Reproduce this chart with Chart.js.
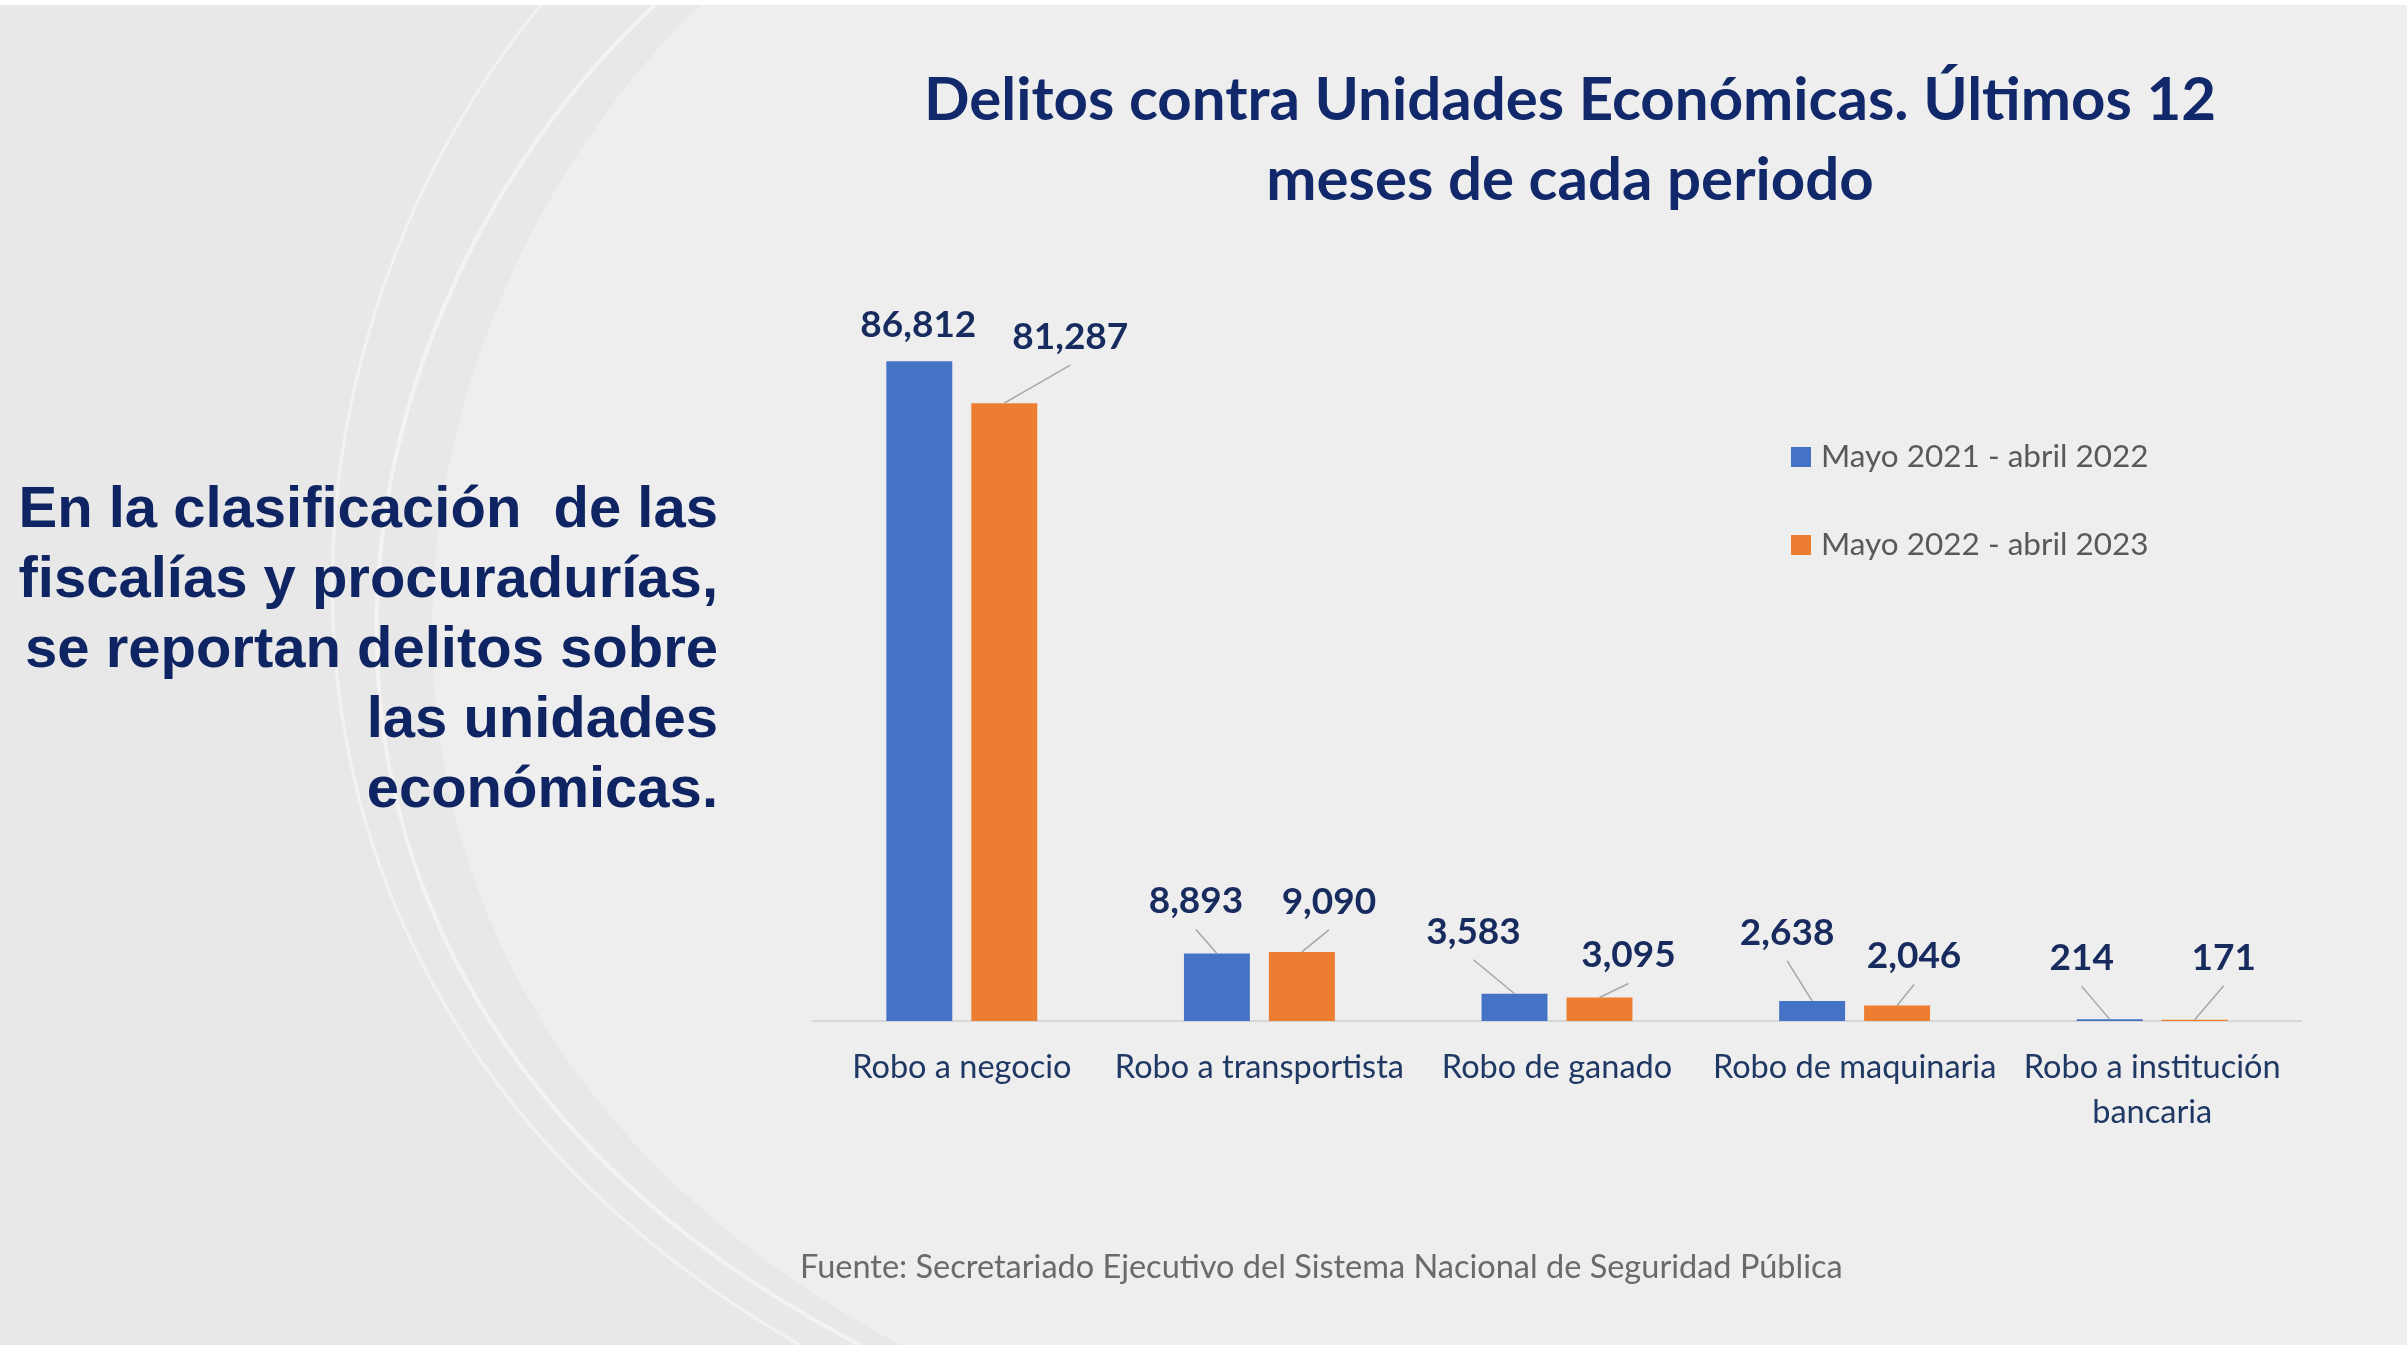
<!DOCTYPE html>
<html lang="es">
<head>
<meta charset="utf-8">
<script src="https://cdn.jsdelivr.net/npm/chart.js@4.4.1/dist/chart.umd.min.js"></script>
<style>
  html, body { margin: 0; padding: 0; }
  body { width: 2407px; height: 1345px; position: relative; overflow: hidden; background: #e9e8e8; }
  #fondo { position: absolute; left: 0; top: 0; }
  #grafica { position: absolute; left: 0; top: 0; }
  .titulo { position: absolute; left: 870px; width: 1400px; top: 57px; text-align: center;
    font-family: Lato, sans-serif; font-weight: 700; font-size: 60px; line-height: 80px; color: #11286a; }
  .texto { position: absolute; right: 1689px; top: 472px; text-align: right; white-space: nowrap;
    font-family: "Liberation Sans", Arial, sans-serif; font-weight: 700; font-size: 58px; line-height: 70px; color: #0f2462; }
  .fuente { position: absolute; left: 800px; top: 1246px; font-family: Lato, sans-serif; font-size: 32.5px; color: #6a6a6a; }
</style>
</head>
<body>
<svg id="fondo" width="2407" height="1345" viewBox="0 0 2407 1345">
  <path d="M 705 0 C 360 330, 260 1000, 900 1345 L 2407 1345 L 2407 0 Z" fill="#eeeeee"/>
  <path d="M 545 0 C 250 350, 200 1000, 800 1345" fill="none" stroke="#f2f2f2" stroke-width="3"/>
  <path d="M 660 0 C 300 330, 200 1000, 860 1345" fill="none" stroke="#f3f3f3" stroke-width="4"/>
  <rect x="0" y="0" width="2407" height="5" fill="#ffffff"/>
</svg>
<canvas id="grafica" width="2407" height="1345"></canvas>
<div class="titulo">Delitos contra Unidades Económicas. Últimos 12<br>meses de cada periodo</div>
<div class="texto">En la clasificación&nbsp; de las<br>fiscalías y procuradurías,<br>se reportan delitos sobre<br>las unidades<br>económicas.</div>
<div class="fuente">Fuente: Secretariado Ejecutivo del Sistema Nacional de Seguridad Pública</div>
<script>
// Datos
const categorias = ['Robo a negocio', 'Robo a transportista', 'Robo de ganado', 'Robo de maquinaria', ['Robo a institución', 'bancaria']];
const periodos = ['Mayo 2021 - abril 2022', 'Mayo 2022 - abril 2023'];
const periodo2122 = [86812, 8893, 3583, 2638, 214];
const periodo2223 = [81287, 9090, 3095, 2046, 171];

const colores = ['#4472c4', '#ed7d31'];

// Posición de etiquetas respecto a la barra (dx, dy, línea guía)
const etiquetaPos = [
    [[-1, -36, false], [-21, -52, true], [-41, -62, true], [-25, -68, true], [-28, -61, true]],
    [[66, -66, true], [27, -50, true], [29, -42, true], [17, -49, true], [29, -62, true]]
];

const fmt = (v) => new Intl.NumberFormat('en-US').format(v);

// Etiquetas de datos con líneas guía
const etiquetasPlugin = {
    id: 'etiquetas',
    afterDatasetsDraw(chart) {
        const ctx = chart.ctx;
        ctx.save();
        chart.data.datasets.forEach((ds, di) => {
            const meta = chart.getDatasetMeta(di);
            meta.data.forEach((bar, i) => {
                const [dx, dy, guia] = etiquetaPos[di][i];
                const lx = bar.x + dx, ly = bar.y + dy;
                if (guia) {
                    ctx.strokeStyle = '#a6a6a6';
                    ctx.lineWidth = 1.5;
                    ctx.beginPath();
                    ctx.moveTo(lx, ly + 28);
                    ctx.lineTo(bar.x, bar.y);
                    ctx.stroke();
                }
                ctx.fillStyle = '#172b5e';
                ctx.font = '700 37px Lato, sans-serif';
                ctx.textAlign = 'center';
                ctx.textBaseline = 'middle';
                ctx.fillText(fmt(ds.data[i]), lx, ly);
            });
        });
        ctx.restore();
    }
};

// Leyenda propia (vertical, dentro del área)
const leyendaPlugin = {
    id: 'leyenda',
    afterDraw(chart) {
        const ctx = chart.ctx;
        ctx.save();
        chart.data.datasets.forEach((ds, di) => {
            const y = 457 + di * 88;
            ctx.fillStyle = ds.backgroundColor;
            ctx.fillRect(1791, y - 10, 20, 20);
            ctx.fillStyle = '#595959';
            ctx.font = '400 31.5px Lato, sans-serif';
            ctx.textAlign = 'left';
            ctx.textBaseline = 'middle';
            ctx.fillText(ds.label, 1821, y);
        });
        ctx.restore();
    }
};

new Chart(document.getElementById('grafica'), {
    type: 'bar',
    data: {
        labels: categorias,
        datasets: [
            { label: periodos[0], data: periodo2122, backgroundColor: colores[0] },
            { label: periodos[1], data: periodo2223, backgroundColor: colores[1] }
        ]
    },
    options: {
        responsive: false,
        animation: false,
        events: [],
        layout: { padding: { left: 813, right: 106, top: 299, bottom: 0 } },
        categoryPercentage: 0.571,
        barPercentage: 0.776,
        plugins: { legend: { display: false }, tooltip: { enabled: false } },
        scales: {
            y: { display: false, min: 0, max: 95000 },
            x: {
                grid: { display: false, drawTicks: false, tickLength: 0 },
                border: { display: true, color: '#d6d6d6', width: 2 },
                ticks: { color: '#203864', padding: 24, maxRotation: 0, autoSkip: false,
                    font: { family: 'Lato, sans-serif', size: 32.5, lineHeight: 1.38 } },
                afterFit(scale) { scale.height = 324; }
            }
        }
    },
    plugins: [etiquetasPlugin, leyendaPlugin]
});
</script>
</body>
</html>
